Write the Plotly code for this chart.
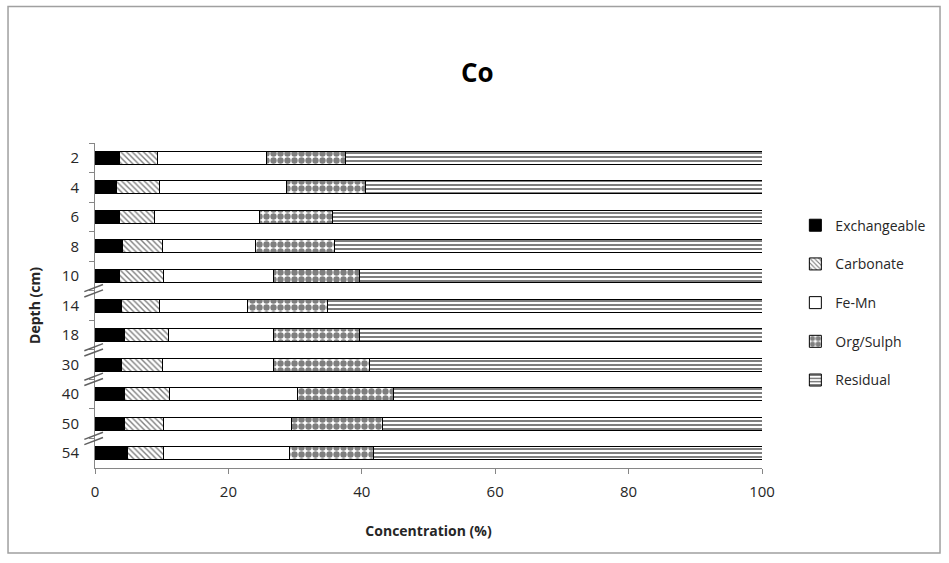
import plotly.graph_objects as go

# Sampling depths (cm), top to bottom
depths = ["2", "4", "6", "8", "10", "14", "18", "30", "40", "50", "54"]

# Co fraction shares (%) per depth
exchangeable = [3.6, 3.2, 3.6, 4.1, 3.6, 3.9, 4.4, 3.9, 4.4, 4.4, 4.9]
carbonate = [5.7, 6.4, 5.3, 6.0, 6.7, 5.7, 6.6, 6.2, 6.8, 5.9, 5.4]
fe_mn = [16.4, 19.1, 15.7, 13.9, 16.4, 13.2, 15.8, 16.7, 19.2, 19.1, 18.8]
org_sulph = [11.8, 11.9, 11.0, 11.9, 12.9, 12.1, 12.9, 14.4, 14.3, 13.7, 12.6]
residual = [round(100 - a - b - c - d, 1)
            for a, b, c, d in zip(exchangeable, carbonate, fe_mn, org_sulph)]

# Depth gaps marked with an axis break symbol (between these category indices)
breaks_after = [4, 6, 7, 9]

FONT = "Open Sans"
TXT = "#262626"

fractions = [
    ("Exchangeable", exchangeable, dict(color="black")),
    ("Carbonate", carbonate, dict(color="white",
                                   pattern=dict(shape="\\", fgcolor="black", bgcolor="white",
                                                size=4, solidity=0.35))),
    ("Fe-Mn", fe_mn, dict(color="white")),
    ("Org/Sulph", org_sulph, dict(color="white",
                                   pattern=dict(shape=".", fgcolor="black", bgcolor="white",
                                                size=7, solidity=0.65))),
    ("Residual", residual, dict(color="white",
                                 pattern=dict(shape="-", fgcolor="black", bgcolor="white",
                                              size=4, solidity=0.5))),
]

fig = go.Figure()
for name, vals, mk in fractions:
    mk = dict(mk)
    mk["line"] = dict(color="black", width=1)
    fig.add_trace(go.Bar(
        y=depths, x=vals, name=name, orientation="h",
        marker=mk, legendgroup=name,
    ))

shapes = []
# Outer chart border
shapes.append(dict(type="rect", xref="paper", yref="paper",
                   x0=-0.1304, x1=1.2669, y0=-0.2615, y1=1.42,
                   line=dict(color="#a0a0a0", width=1.5), fillcolor="rgba(0,0,0,0)",
                   layer="below"))
# Axis break marks on the depth axis
for b in breaks_after:
    yc = b + 0.5
    for dy in (-0.09, 0.09):
        shapes.append(dict(type="line", xref="paper", yref="y",
                           x0=-0.016, x1=0.012, y0=yc + dy + 0.12, y1=yc + dy - 0.12,
                           line=dict(color="#606060", width=1.5)))

fig.update_layout(
    width=949, height=563,
    margin=dict(l=95, r=187, t=143, b=95),
    paper_bgcolor="white", plot_bgcolor="white",
    barmode="stack", bargap=0.56,
    font=dict(family=FONT, color=TXT, size=14),
    title=dict(text="<b>Co</b>", x=0.503, y=0.87, xanchor="center", yanchor="middle",
               font=dict(family=FONT, size=26, color="black")),
    xaxis=dict(range=[0, 100], tickvals=[0, 20, 40, 60, 80, 100],
               showline=True, linecolor="#868686", linewidth=1,
               ticks="outside", ticklen=5, tickcolor="#868686", ticklabelstandoff=5,
               showgrid=False, zeroline=False,
               tickfont=dict(size=15, color=TXT),
               title=dict(text="<b>Concentration (%)</b>", standoff=26,
                          font=dict(size=14, color=TXT))),
    yaxis=dict(categoryorder="array", categoryarray=depths, autorange="reversed",
               showline=True, linecolor="#868686", linewidth=1,
               ticks="outside", ticklen=5, tickcolor="#868686", tickson="boundaries",
               ticklabelstandoff=12,
               showgrid=False, zeroline=False,
               tickfont=dict(size=15, color=TXT),
               title=dict(text="<b>Depth (cm)</b>", standoff=17,
                          font=dict(size=14, color=TXT))),
    legend=dict(x=1.05, y=0.795, xanchor="left", yanchor="top",
                traceorder="grouped", tracegroupgap=17.5,
                font=dict(size=14, color=TXT),
                itemwidth=30, bgcolor="rgba(0,0,0,0)"),
    shapes=shapes,
)

fig.write_html("out.html")
